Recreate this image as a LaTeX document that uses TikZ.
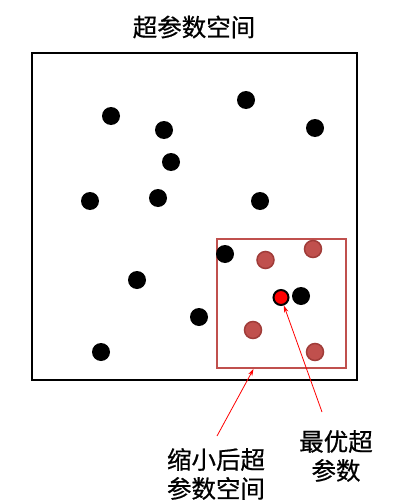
\documentclass[tikz,border=0pt]{standalone}
\usepackage{fontspec}
\setmainfont{Noto Sans CJK SC}[FakeBold=0.6]
\usetikzlibrary{arrows.meta}
\definecolor{boxred}{HTML}{C0504D}
\definecolor{dotedge}{HTML}{A03C39}
\begin{document}
\begin{tikzpicture}[x=1pt,y=-1pt,
  blackdot/.style={circle,fill=black,inner sep=0pt,minimum size=18pt},
  browndot/.style={circle,fill=boxred,draw=dotedge,line width=1.5pt,inner sep=0pt,minimum size=17pt},
  bestdot/.style={circle,fill=red,draw=black,line width=2pt,inner sep=0pt,minimum size=15pt},
  lbl/.style={font=\fontsize{24.5}{29}\selectfont,align=center,inner sep=0pt},
  pointer/.style={red,line width=0.8pt,-{Stealth[length=7pt,width=4.5pt]}}]
\useasboundingbox (0,0) rectangle (417,503);
\node[lbl] (title) at (194,27) {超参数空间};
\draw[line width=2.5pt] (32,53) rectangle (357,380);
\node[draw=boxred,line width=2pt,minimum width=129pt,minimum height=129pt,inner sep=0pt] (small) at (281.5,303.5) {};
% black dots
\node[blackdot] (b1) at (111,116) {};
\node[blackdot] (b2) at (164,130) {};
\node[blackdot] (b3) at (246,100) {};
\node[blackdot] (b4) at (315,128) {};
\node[blackdot] (b5) at (171,162) {};
\node[blackdot] (b6) at (90,201) {};
\node[blackdot] (b7) at (158,198) {};
\node[blackdot] (b8) at (260,201) {};
\node[blackdot] (b9) at (225,254) {};
\node[blackdot] (b10) at (137,280) {};
\node[blackdot] (b11) at (199,317) {};
\node[blackdot] (b12) at (101,352) {};
\node[blackdot] (b13) at (301,296) {};
% brown dots
\node[browndot] (r1) at (265.5,260) {};
\node[browndot] (r2) at (313,249) {};
\node[browndot] (r3) at (253,330) {};
\node[browndot] (r4) at (315,352) {};
% best
\node[bestdot] (best) at (281,297.5) {};
% labels
\node[lbl] (lab1) at (216,474) {缩小后超\\参数空间};
\node[lbl] (lab2) at (336,456) {最优超\\参数};
\coordinate (s1) at (217,436);
\coordinate (s2) at (322,412);
\coordinate (e1) at (253.5,369);
\draw[pointer] (s1) -- (e1);
\draw[pointer] (s2) -- (best);
\end{tikzpicture}
\end{document}
